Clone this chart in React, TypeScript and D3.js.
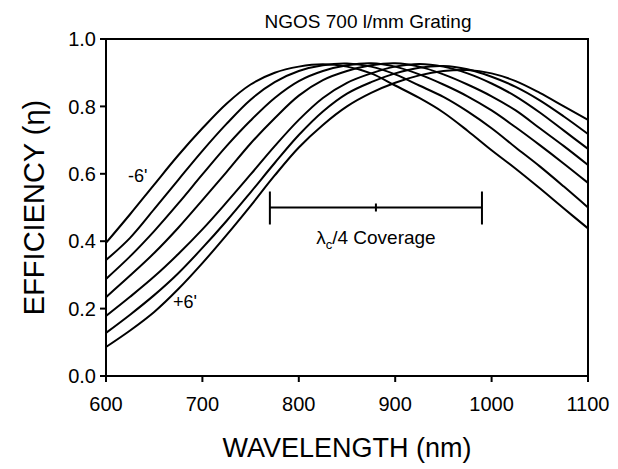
import React from "react";
import * as d3 from "d3";

// wavelength grid (nm)
const wavelengths = [600, 625, 650, 675, 700, 725, 750, 775, 800, 825, 850, 875, 900, 925, 950, 975, 1000, 1025, 1050, 1075, 1100];

// efficiency, one series per grating tilt
const tiltM6 = [0.395, 0.48, 0.568, 0.655, 0.735, 0.808, 0.865, 0.9, 0.918, 0.925, 0.918, 0.898, 0.862, 0.825, 0.782, 0.728, 0.67, 0.615, 0.557, 0.497, 0.438];
const tiltM4 = [0.344, 0.41, 0.495, 0.582, 0.668, 0.748, 0.82, 0.872, 0.905, 0.922, 0.927, 0.918, 0.895, 0.862, 0.828, 0.785, 0.735, 0.678, 0.622, 0.562, 0.5];
const tiltM2 = [0.288, 0.355, 0.43, 0.512, 0.598, 0.682, 0.758, 0.825, 0.875, 0.905, 0.922, 0.928, 0.918, 0.895, 0.865, 0.83, 0.788, 0.738, 0.685, 0.63, 0.573];
const tilt0 = [0.234, 0.298, 0.365, 0.44, 0.522, 0.605, 0.69, 0.765, 0.832, 0.878, 0.905, 0.922, 0.928, 0.918, 0.895, 0.865, 0.83, 0.788, 0.735, 0.682, 0.626];
const tiltP2 = [0.178, 0.235, 0.295, 0.362, 0.435, 0.515, 0.598, 0.682, 0.76, 0.825, 0.87, 0.898, 0.918, 0.926, 0.918, 0.898, 0.868, 0.83, 0.782, 0.728, 0.674];
const tiltP4 = [0.128, 0.182, 0.24, 0.305, 0.38, 0.46, 0.545, 0.632, 0.715, 0.785, 0.838, 0.872, 0.898, 0.915, 0.92, 0.91, 0.888, 0.858, 0.818, 0.77, 0.718];
const tiltP6 = [0.086, 0.135, 0.19, 0.258, 0.335, 0.418, 0.505, 0.595, 0.678, 0.745, 0.8, 0.84, 0.87, 0.892, 0.905, 0.908, 0.898, 0.875, 0.84, 0.8, 0.76];

const series = [tiltM6, tiltM4, tiltM2, tilt0, tiltP2, tiltP4, tiltP6];

const xTicks = [600, 700, 800, 900, 1000, 1100];
const yTicks = [0, 0.2, 0.4, 0.6, 0.8, 1.0];

// lambda_c / 4 coverage bar
const coverage = [770, 880, 990];
const coverageLevel = 0.5;

const font = "'Liberation Sans', Arial, Helvetica, sans-serif";

export default function App() {
  const width = 618;
  const height = 469;
  const x = d3.scaleLinear().domain([600, 1100]).range([106, 588]);
  const y = d3.scaleLinear().domain([0, 1]).range([376, 39]);

  const line = d3
    .line<number>()
    .x((d, i) => x(wavelengths[i]))
    .y((d) => y(d))
    .curve(d3.curveCatmullRom);

  const [x0, x1] = x.range();
  const [y0, y1] = y.range();
  const yc = y(coverageLevel);

  return (
    <svg width={width} height={height} style={{ position: "absolute", left: 0, top: 0, background: "#fff" }} fontFamily={font}>
      <text x={368} y={28} textAnchor="middle" fontSize={19}>
        NGOS 700 l/mm Grating
      </text>

      <g fill="none" stroke="#000" strokeWidth={2}>
        {series.map((s, i) => (
          <path key={i} d={line(s) || ""} strokeLinejoin="round" />
        ))}
      </g>

      {/* frame */}
      <rect x={x0} y={y1} width={x1 - x0} height={y0 - y1} fill="none" stroke="#000" strokeWidth={2} />

      {/* y axis */}
      {yTicks.map((t) => (
        <g key={t}>
          <line x1={x0 - 6} x2={x0} y1={y(t)} y2={y(t)} stroke="#000" strokeWidth={2} />
          <text x={x0 - 10} y={y(t)} dy="0.36em" textAnchor="end" fontSize={20}>
            {t.toFixed(1)}
          </text>
        </g>
      ))}

      {/* x axis */}
      {xTicks.map((t) => (
        <g key={t}>
          <line x1={x(t)} x2={x(t)} y1={y0} y2={y0 + 6} stroke="#000" strokeWidth={2} />
          <text x={x(t)} y={y0 + 35} textAnchor="middle" fontSize={20}>
            {t}
          </text>
        </g>
      ))}

      <text x={(x0 + x1) / 2} y={457} textAnchor="middle" fontSize={27}>
        WAVELENGTH (nm)
      </text>
      <text transform={`translate(44,${(y0 + y1) / 2}) rotate(-90)`} textAnchor="middle" fontSize={29}>
        EFFICIENCY (η)
      </text>

      {/* coverage bar */}
      <g stroke="#000" strokeWidth={2}>
        <line x1={x(coverage[0])} x2={x(coverage[2])} y1={yc} y2={yc} />
        <line x1={x(coverage[0])} x2={x(coverage[0])} y1={yc - 16} y2={yc + 17} />
        <line x1={x(coverage[2])} x2={x(coverage[2])} y1={yc - 16} y2={yc + 17} />
        <line x1={x(coverage[1])} x2={x(coverage[1])} y1={yc - 4} y2={yc + 4} />
      </g>
      <text x={x(coverage[1])} y={yc + 36} textAnchor="middle" fontSize={19}>
        λ<tspan fontSize={13} dy={5}>c</tspan>
        <tspan dy={-5}>/4 Coverage</tspan>
      </text>

      <text x={128} y={182} fontSize={18}>-6'</text>
      <text x={173} y={308} fontSize={18}>+6'</text>
    </svg>
  );
}
